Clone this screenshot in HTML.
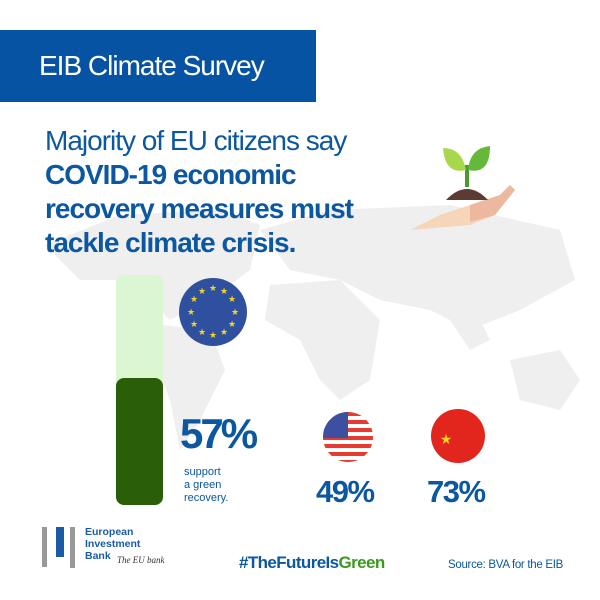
<!DOCTYPE html>
<html><head><meta charset="utf-8"><style>
body{margin:0;width:600px;height:600px;background:#fff;position:relative;overflow:hidden;font-family:"Liberation Sans",sans-serif}
.a{position:absolute;white-space:nowrap}
.h{color:#0b57a0;font-size:28px;line-height:34px;letter-spacing:-1px}
</style></head><body>
<svg class="a" style="left:0;top:0" width="600" height="600">
<g fill="#efefef">
<path d="M45 245 L120 215 L220 210 L260 225 L250 270 L210 300 L170 320 L150 300 L120 280 L80 280Z"/>
<path d="M160 325 L210 330 L225 370 L200 420 L180 450 L170 400 L155 360Z"/>
<path d="M260 230 L330 210 L450 205 L560 230 L575 280 L520 310 L470 330 L430 310 L380 300 L340 280 L290 270Z"/>
<path d="M270 285 L340 280 L380 320 L370 380 L340 400 L320 380 L300 340 L265 320Z"/>
<path d="M450 320 L480 320 L490 340 L470 350Z"/>
<path d="M510 360 L560 350 L580 380 L560 410 L520 400Z"/>
</g>
<rect x="0" y="30" width="316" height="72" fill="#0652a3"/>
<rect x="116" y="275" width="47" height="230" rx="8" fill="#dbf7d2"/>
<rect x="116" y="378" width="47" height="127" rx="8" fill="#2a5e08"/>
<circle cx="213" cy="312" r="34" fill="#2f4f9f"/>
<g fill="#f3d428" font-size="9" text-anchor="middle">
<text x="213" y="291">★</text><text x="224" y="294">★</text><text x="232" y="302">★</text><text x="235" y="315">★</text><text x="232" y="327">★</text><text x="224" y="335">★</text><text x="213" y="338">★</text><text x="202" y="335">★</text><text x="194" y="327">★</text><text x="191" y="315">★</text><text x="194" y="302">★</text><text x="202" y="294">★</text></g>
<clipPath id="c"><circle cx="348" cy="437" r="25"/></clipPath>
<g clip-path="url(#c)"><rect x="320" y="410" width="60" height="60" fill="#fff"/>
<g fill="#e63b2e"><rect x="320" y="412" width="60" height="4"/><rect x="320" y="420" width="60" height="4"/><rect x="320" y="428" width="60" height="4"/><rect x="320" y="436" width="60" height="4"/><rect x="320" y="444" width="60" height="4"/><rect x="320" y="452" width="60" height="4"/><rect x="320" y="460" width="60" height="4"/></g>
<rect x="320" y="410" width="28" height="28" fill="#3c4fa0"/></g>
<circle cx="458" cy="436" r="27" fill="#e2261d"/>
<text x="446" y="444" fill="#f7d21e" font-size="14" text-anchor="middle">★</text>
<path d="M440 215 L470 205 L500 195 L510 185 L515 190 L495 215 L470 225 L410 230Z" fill="#f6d5b8"/>
<path d="M470 205 L500 195 L510 185 L515 190 L495 215 L470 222Z" fill="#edb8a0"/>
<path d="M446 200 Q467 178 488 200Z" fill="#5c3b33"/>
<rect x="465" y="165" width="4" height="22" fill="#4c9a2c"/>
<path d="M466 170 Q445 175 443 148 Q462 148 466 170Z" fill="#a7d84b"/>
<path d="M468 170 Q490 175 490 146 Q470 148 468 170Z" fill="#66b83a"/>
<rect x="42" y="527" width="5" height="40" fill="#999"/>
<rect x="56" y="527" width="8" height="30" fill="#1b5ba5"/>
<rect x="70" y="527" width="5" height="41" fill="#999"/>
</svg>
<div class="a" style="left:39px;top:50px;color:#fff;font-size:28px;letter-spacing:-1px">EIB Climate Survey</div>
<div class="a h" style="left:45px;top:124px">Majority of EU citizens say<br><b>COVID-19 economic<br>recovery measures must<br>tackle climate crisis.</b></div>
<div class="a" style="left:180px;top:410px;color:#0b57a0;font-size:42px;font-weight:bold;letter-spacing:-3px">57%</div>
<div class="a" style="left:184px;top:466px;color:#0b57a0;font-size:11px;line-height:13px">support<br>a green<br>recovery.</div>
<div class="a" style="left:316px;top:474px;color:#0b57a0;font-size:31px;font-weight:bold;letter-spacing:-1.5px">49%</div>
<div class="a" style="left:427px;top:474px;color:#0b57a0;font-size:31px;font-weight:bold;letter-spacing:-1.5px">73%</div>
<div class="a" style="left:85px;top:526px;color:#1b5ba5;font-size:10.5px;font-weight:bold;line-height:12px">European<br>Investment<br>Bank</div>
<div class="a" style="left:117px;top:555px;color:#333;font-size:9px;font-style:italic;font-family:'Liberation Serif',serif">The EU bank</div>
<div class="a" style="left:239px;top:553px;color:#0b57a0;font-size:17px;font-weight:bold;letter-spacing:-0.6px">#TheFutureIs<span style="color:#3a9a1f">Green</span></div>
<div class="a" style="left:448px;top:559px;color:#0b57a0;font-size:11.5px;letter-spacing:-0.3px">Source: BVA for the EIB</div>
</body></html>
